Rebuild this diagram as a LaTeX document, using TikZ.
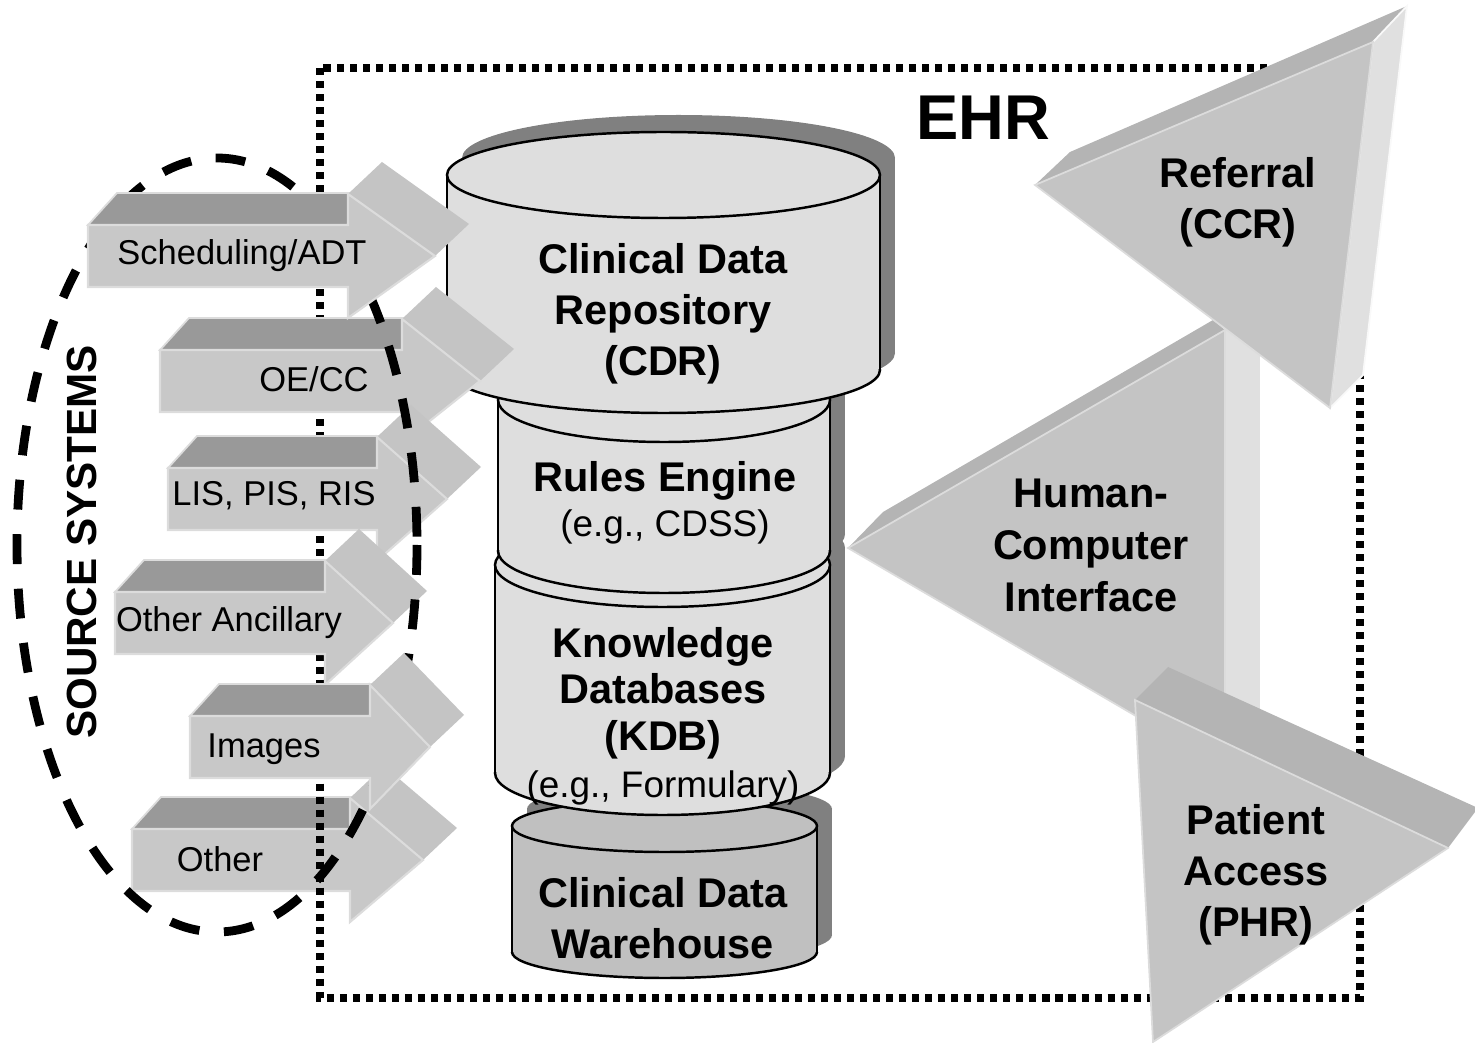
\documentclass[tikz,border=0pt]{standalone}
\usepackage{fontspec}
\setmainfont{Liberation Sans}

\definecolor{cylfill}{HTML}{DEDEDE}
\definecolor{cdwfill}{HTML}{C0C0C0}
\definecolor{shadowgray}{HTML}{808080}
\definecolor{arrowfront}{HTML}{C8C8C8}
\definecolor{arrowtop}{HTML}{999999}
\definecolor{arrowhead}{HTML}{C4C4C4}
\definecolor{arrowedge}{HTML}{DCDCDC}
\definecolor{trifront}{HTML}{C4C4C4}
\definecolor{tritop}{HTML}{B4B4B4}
\definecolor{triside}{HTML}{E0E0E0}

% shadow of a database cylinder: left, right, top centre, bottom centre, y radius
\newcommand{\cylshadow}[5]{%
  \begin{scope}[shift={(15,-17)}]
    \fill[shadowgray] (#1,#3) rectangle (#2,#4);
    \fill[shadowgray] ({(#1+#2)/2},#3) ellipse [x radius={(#2-#1)/2}, y radius=#5];
    \fill[shadowgray] ({(#1+#2)/2},#4) ellipse [x radius={(#2-#1)/2}, y radius=#5];
  \end{scope}}

% database cylinder: left, right, top centre, bottom centre, y radius, fill
\newcommand{\dbcyl}[6]{%
  \fill[#6] (#1,#3) rectangle (#2,#4);
  \fill[#6] ({(#1+#2)/2},#4) ellipse [x radius={(#2-#1)/2}, y radius=#5];
  \begin{scope}
    \clip (#1-5,#4) rectangle (#2+5,#4+#5+5);
    \draw[cyledge] ({(#1+#2)/2},#4) ellipse [x radius={(#2-#1)/2}, y radius=#5];
  \end{scope}
  \draw[cyledge] (#1,#3) -- (#1,#4) (#2,#3) -- (#2,#4);
  \draw[cyledge, fill=#6] ({(#1+#2)/2},#3) ellipse [x radius={(#2-#1)/2}, y radius=#5];}

% 3d block arrow: left, shaft end, tip, centre line
\newcommand{\srcarrow}[4]{%
  \filldraw[arrowtop, draw=arrowedge, line width=.5pt] (#1,#4-31) -- (#1+29,#4-63) -- (#2+29,#4-63) -- (#2,#4-31) -- cycle;
  \fill[arrowhead] (#2,#4-62) -- (#2+34,#4-94) -- (#3+34,#4-32) -- (#3,#4) -- (#2,#4+62) -- cycle;
  \filldraw[arrowfront, draw=arrowedge, line width=.6pt] (#1,#4-31) -- (#2,#4-31) -- (#2,#4-62) -- (#3,#4) -- (#2,#4+62) -- (#2,#4+31) -- (#1,#4+31) -- cycle;}

\begin{document}
\begin{tikzpicture}[x=0.01cm, y=-0.01cm]
  \tikzstyle{cyledge}=[draw=black, line width=.7pt]
  \tikzstyle{ehrframe}=[draw=black, line width=2.2pt, dash pattern=on 2pt off 1.7pt]
  \tikzstyle{srcring}=[draw=black, line width=2.5pt, dash pattern=on 8.5pt off 7pt]
  \tikzstyle{srclabel}=[font=\fontsize{9.8}{11.8}\selectfont, inner sep=0pt, anchor=base]
  \tikzstyle{dblabel}=[font=\bfseries\fontsize{11.8}{14.5}\selectfont, align=center, inner sep=0pt]
  \useasboundingbox (0,0) rectangle (1475,1043);

  % shadows behind the stack
  \cylshadow{512}{817}{826}{952}{26}
  \cylshadow{495}{830}{565}{773}{42}
  \cylshadow{498}{830}{400}{551}{42}
  \cylshadow{447}{880}{175}{370}{43}

  % the stack, bottom first
  \dbcyl{512}{817}{826}{952}{26}{cdwfill}
  \dbcyl{495}{830}{565}{773}{42}{cylfill}
  \dbcyl{498}{830}{400}{551}{42}{cylfill}
  \dbcyl{447}{880}{175}{370}{43}{cylfill}

  \node[dblabel] (cdr) at (663,314) {Clinical Data\\Repository\\(CDR)};
  \node[dblabel, font=\bfseries\fontsize{11.8}{12.8}\selectfont] (rules) at (665,503) {Rules Engine\\{\mdseries\fontsize{10.5}{12.8}\selectfont(e.g., CDSS)}};
  \node[dblabel, font=\bfseries\fontsize{11.8}{13.3}\selectfont] (kdb) at (663,716) {Knowledge\\Databases\\(KDB)\\{\mdseries\fontsize{10.5}{13.3}\selectfont(e.g., Formulary)}};
  \node[dblabel] (cdw) at (663,918) {Clinical Data\\Warehouse};

  % source systems
  \srcarrow{132}{350}{423}{860}
  \draw[ehrframe] (320,68) rectangle (1360,998);
  \srcarrow{160}{402}{480}{381}
  \srcarrow{168}{377}{447}{499}
  \srcarrow{115}{325}{393}{623}
  \draw[srcring] (217,545) ellipse [x radius=200, y radius=387];
  \srcarrow{88}{348}{435}{256}
  \srcarrow{190}{370}{430}{747}

  \node[srclabel] (sched) at (242,265) {Scheduling/ADT};
  \node[srclabel] (oecc) at (314,392) {OE/CC};
  \node[srclabel] (lis) at (274,506) {LIS, PIS, RIS};
  \node[srclabel] (ancil) at (229,632) {Other Ancillary};
  \node[srclabel] (images) at (264,758) {Images};
  \node[srclabel] (other) at (220,872) {Other};

  % outputs
  \fill[tritop] (848,548) -- (883,512) -- (1213,320) -- (1225,330) -- cycle;
  \fill[triside] (1225,328) rectangle (1260,770);
  \filldraw[trifront, draw=arrowedge, line width=.5pt] (848,548) -- (1225,330) -- (1225,768) -- cycle;

  \fill[tritop] (1035,185) -- (1070,152) -- (1407,6) -- (1373,42) -- cycle;
  \filldraw[triside, draw=white!95!gray, line width=.5pt] (1373,42) -- (1407,6) -- (1363,375) -- (1330,408) -- cycle;
  \filldraw[trifront, draw=arrowedge, line width=.5pt] (1035,185) -- (1373,42) -- (1330,408) -- cycle;

  \fill[tritop] (1135,700) -- (1168,667) -- (1478,808) -- (1448,848) -- cycle;
  \filldraw[trifront, draw=arrowedge, line width=.5pt] (1135,700) -- (1448,848) -- (1153,1042) -- cycle;

  \node[dblabel] (ccr) at (1238,202) {Referral\\(CCR)};
  \node[dblabel, font=\bfseries\fontsize{11.8}{14.8}\selectfont] (hci) at (1091,545) {Human-\\Computer\\Interface};
  \node[dblabel] (phr) at (1256,875) {Patient\\Access\\(PHR)};

  \node[font=\bfseries\fontsize{18}{20}\selectfont, inner sep=0pt, anchor=base] (ehr) at (983,140) {EHR};
  \node[font=\bfseries\fontsize{12}{14}\selectfont, inner sep=0pt, rotate=90] (src) at (82,542) {SOURCE SYSTEMS};
\end{tikzpicture}
\end{document}
